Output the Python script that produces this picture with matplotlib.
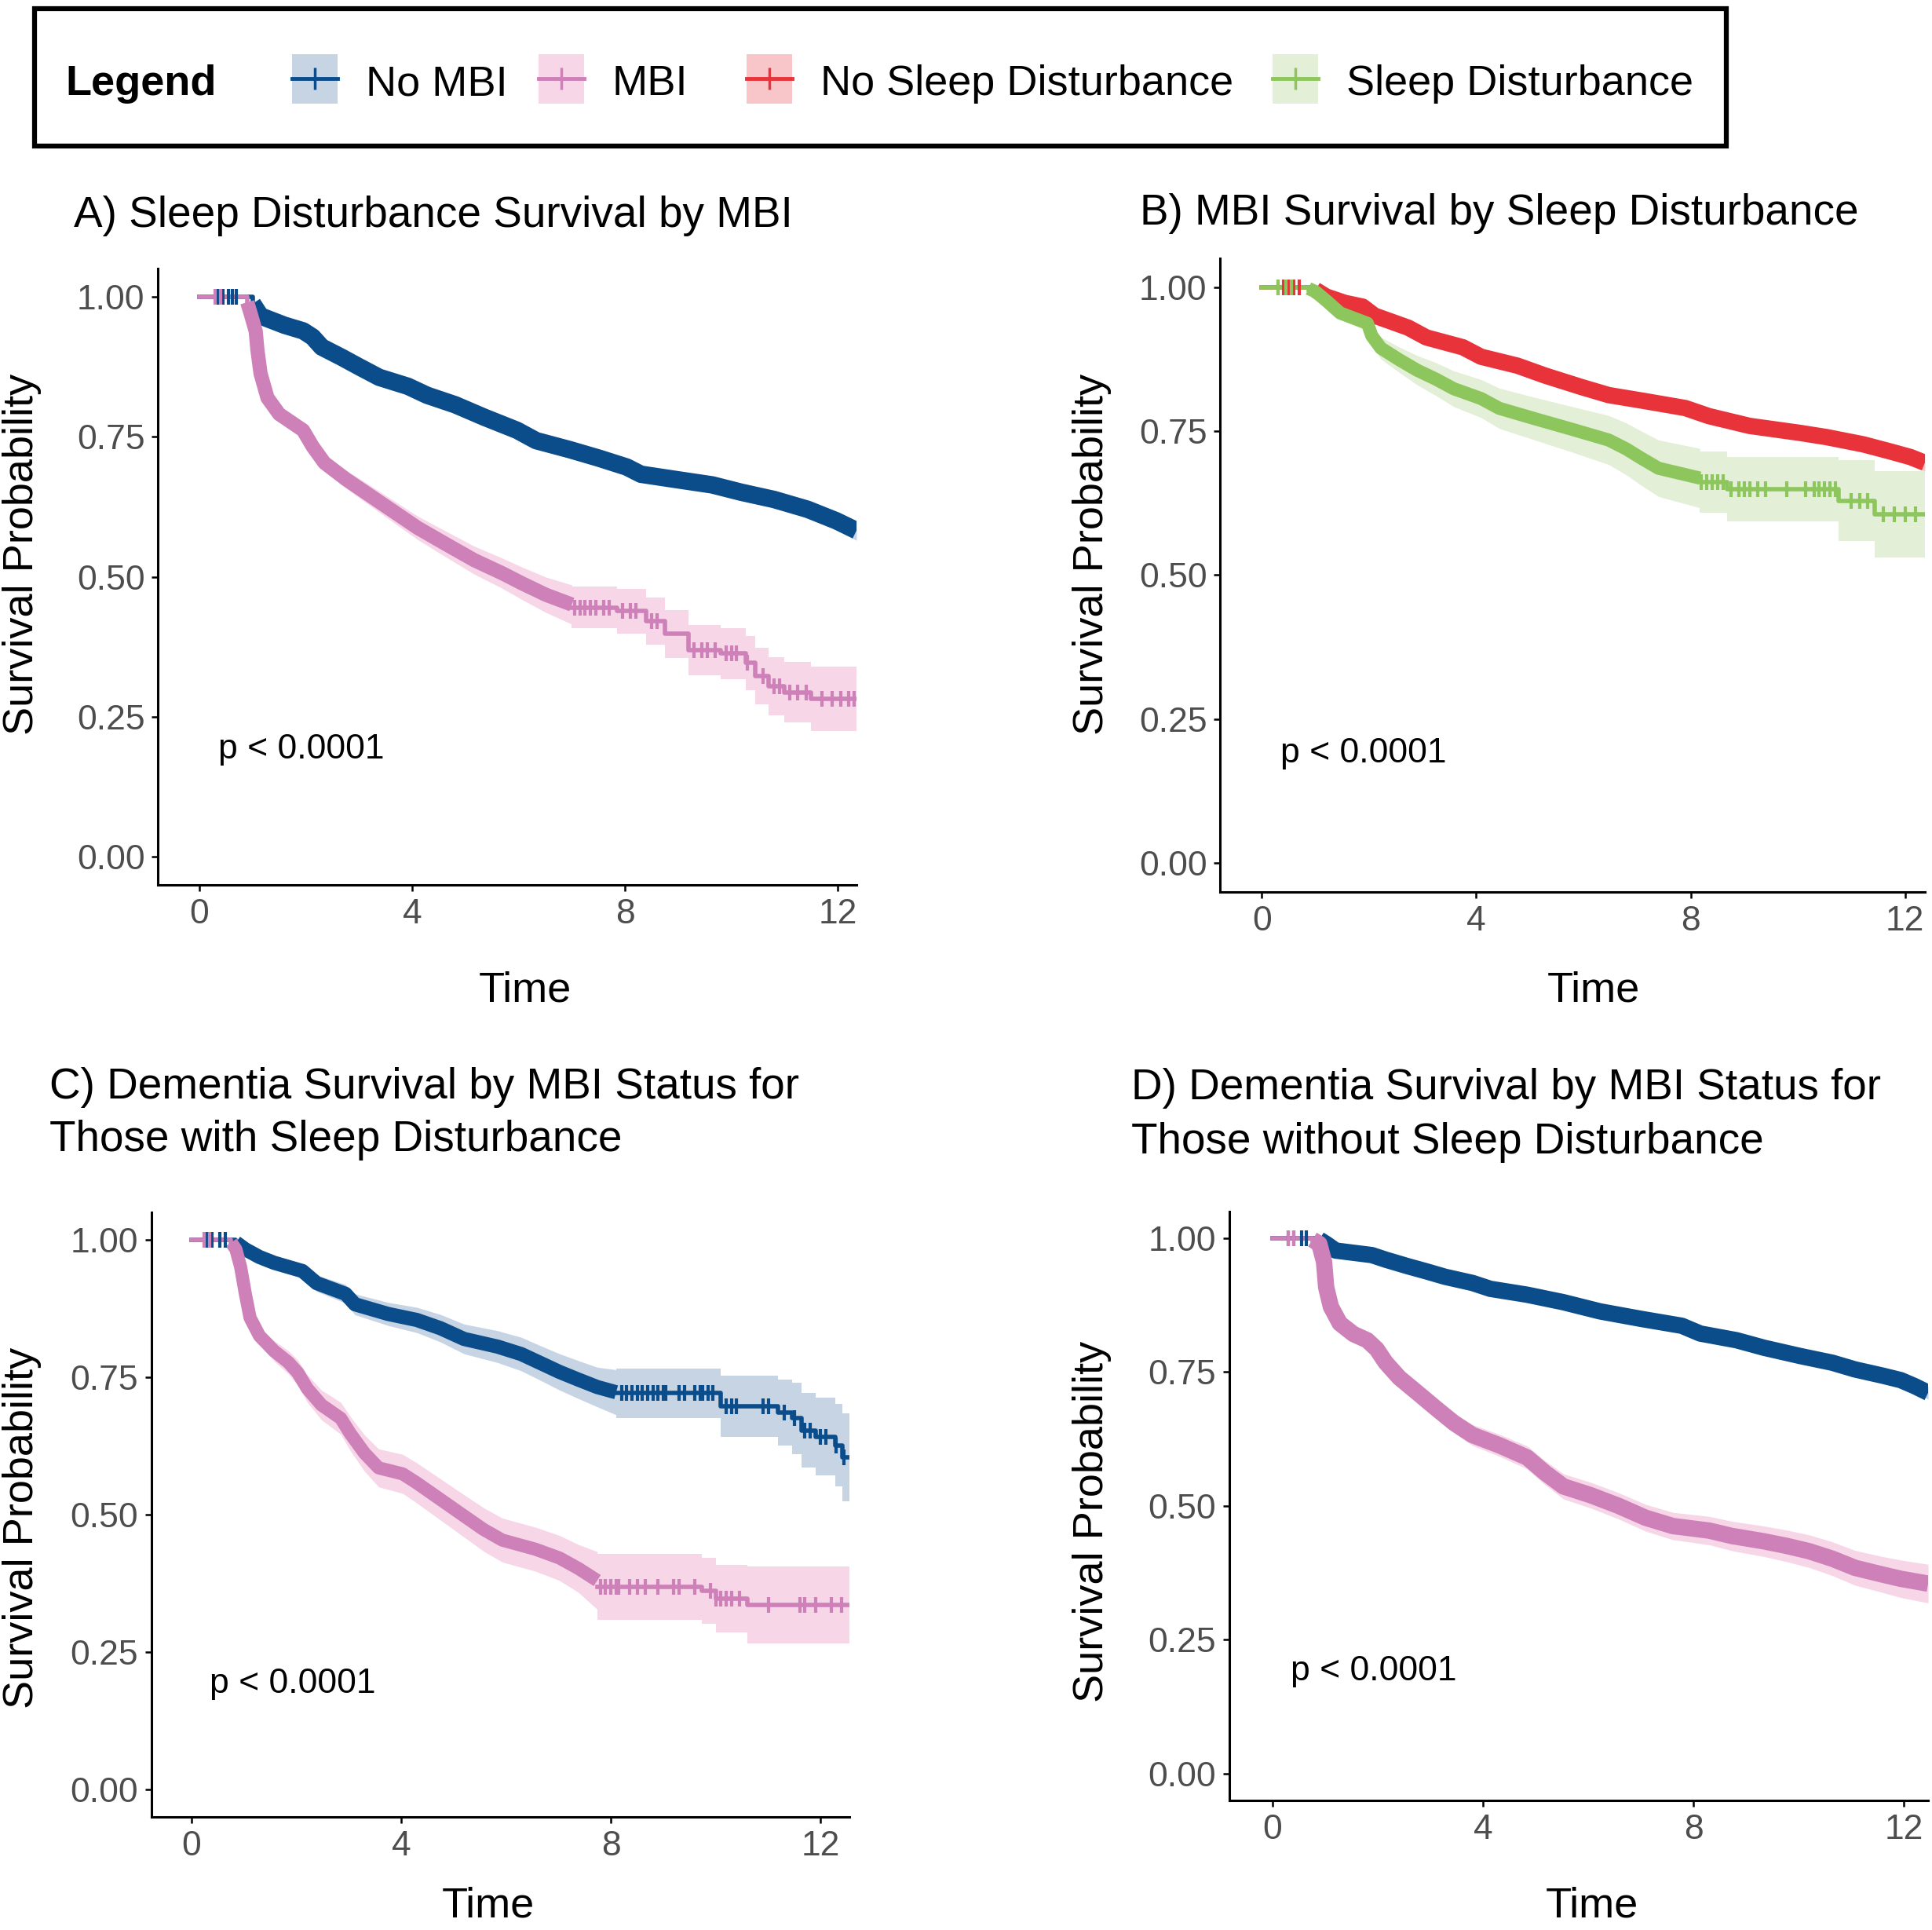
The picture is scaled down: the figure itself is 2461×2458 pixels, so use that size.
# Kaplan-Meier style panels: sleep disturbance / MBI / dementia survival
import numpy as np
import matplotlib
matplotlib.use('Agg')
import matplotlib.pyplot as plt
from matplotlib.patches import Rectangle

plt.rcParams['font.family'] = ['Liberation Sans', 'DejaVu Sans']

W, H = 2461, 2458

blue, blue_ci = '#0B4C8A', '#C6D4E4'
pink, pink_ci = '#CE80B8', '#F6D6E7'
red, red_ci = '#E8333B', '#F8C6C8'
green, green_ci = '#8EC65E', '#E3EFD6'

legend_labels = ['No MBI', 'MBI', 'No Sleep Disturbance', 'Sleep Disturbance']

# ---- A) Sleep Disturbance Survival by MBI ----
a_nombi_t = [0, 1.0, 1.15, 1.6, 1.95, 2.13, 2.3, 2.67, 3.0, 3.38, 3.92, 4.28, 4.81, 5.35, 5.97,
             6.33, 6.96, 7.5, 8.03, 8.3, 8.93, 9.64, 10.18, 10.8, 11.43, 11.97, 12.35]
a_nombi_s = [1.0, 0.975, 0.956, 0.942, 0.936, 0.92, 0.90, 0.884, 0.866, 0.846, 0.834, 0.814, 0.80,
             0.77, 0.753, 0.733, 0.721, 0.703, 0.689, 0.677, 0.671, 0.657, 0.645, 0.631, 0.61, 0.59, 0.575]
a_nombi_ci = [0, 0.005, 0.006, 0.007, 0.008, 0.008, 0.009, 0.009, 0.01, 0.01, 0.01, 0.011, 0.011,
              0.012, 0.012, 0.012, 0.013, 0.013, 0.013, 0.014, 0.014, 0.014, 0.015, 0.015, 0.016, 0.017, 0.018]
a_nombi_cens = [0.35, 0.45, 0.55, 0.62, 0.7]

a_mbi_t = [0, 0.9, 0.97, 1.06, 1.09, 1.15, 1.28, 1.5, 1.95, 2.13, 2.35, 2.75, 3.2, 3.65, 4.1, 4.63,
           5.17, 5.7, 6.06, 6.51, 7.0, 7.85, 8.39, 8.75, 9.2, 9.8, 10.27, 10.45, 10.7, 11.0, 11.5, 12.35]
a_mbi_s = [1.0, 0.98, 0.956, 0.92, 0.892, 0.834, 0.805, 0.776, 0.747, 0.718, 0.689, 0.66, 0.631, 0.602,
           0.573, 0.544, 0.515, 0.497, 0.48, 0.456, 0.445, 0.439, 0.421, 0.398, 0.369, 0.363, 0.346,
           0.323, 0.305, 0.294, 0.282, 0.282]
a_mbi_ci = [0, 0.004, 0.006, 0.008, 0.009, 0.01, 0.011, 0.012, 0.013, 0.014, 0.015, 0.017, 0.019, 0.02,
            0.022, 0.024, 0.026, 0.028, 0.03, 0.033, 0.037, 0.04, 0.042, 0.043, 0.045, 0.046, 0.048,
            0.05, 0.052, 0.054, 0.058, 0.058]
a_mbi_cens = [0.3, 0.4, 7.05, 7.15, 7.25, 7.35, 7.45, 7.6, 7.7, 7.95, 8.1, 8.2, 8.5, 8.6, 9.3, 9.45,
              9.55, 9.7, 9.9, 10.0, 10.1, 10.3, 10.6, 10.8, 10.9, 11.1, 11.25, 11.4, 11.7, 11.9,
              12.05, 12.2, 12.3]

# ---- B) MBI Survival by Sleep Disturbance ----
b_nosd_t = [0, 1.0, 1.2, 1.55, 1.88, 2.1, 2.73, 3.07, 3.75, 4.09, 4.77, 5.28, 5.96, 6.47, 7.15, 7.9,
            8.34, 9.1, 10.03, 10.54, 11.22, 11.73, 12.1, 12.37]
b_nosd_s = [1.0, 0.99, 0.977, 0.968, 0.964, 0.937, 0.922, 0.903, 0.888, 0.87, 0.857, 0.836, 0.817,
            0.808, 0.796, 0.784, 0.768, 0.75, 0.744, 0.735, 0.719, 0.71, 0.7, 0.69]
b_nosd_ci = [0, 0.003, 0.004, 0.005, 0.005, 0.006, 0.006, 0.007, 0.007, 0.008, 0.008, 0.009, 0.009,
             0.01, 0.01, 0.011, 0.011, 0.012, 0.012, 0.013, 0.013, 0.014, 0.015, 0.015]
b_nosd_cens = [0.3, 0.4, 0.5, 0.6, 0.7]

b_sd_t = [0, 0.87, 1.0, 1.2, 1.46, 1.97, 2.05, 2.22, 2.56, 2.9, 3.24, 3.58, 4.09, 4.43, 5.11, 5.79,
          6.47, 6.8, 7.06, 7.4, 8.17, 8.68, 10.76, 11.43, 12.37]
b_sd_s = [1.0, 0.995, 0.989, 0.964, 0.946, 0.928, 0.903, 0.885, 0.863, 0.848, 0.833, 0.814, 0.799,
          0.78, 0.762, 0.744, 0.725, 0.713, 0.695, 0.676, 0.661, 0.649, 0.629, 0.606, 0.606]
b_sd_ci = [0, 0.003, 0.005, 0.01, 0.012, 0.014, 0.018, 0.02, 0.024, 0.027, 0.03, 0.032, 0.034, 0.036,
           0.038, 0.041, 0.044, 0.046, 0.048, 0.05, 0.053, 0.056, 0.07, 0.075, 0.075]
b_sd_cens = [0.3, 0.45, 0.55, 8.2, 8.3, 8.4, 8.5, 8.6, 8.75, 8.9, 9.0, 9.1, 9.25, 9.4, 9.8, 10.15,
             10.3, 10.4, 10.5, 10.6, 10.7, 11.0, 11.15, 11.3, 11.6, 11.8, 12.0, 12.2]

# ---- C) Dementia by MBI, with sleep disturbance ----
c_nombi_t = [0, 0.85, 1.03, 1.3, 1.58, 2.12, 2.39, 2.94, 3.12, 3.75, 4.3, 4.75, 5.2, 5.84, 6.29,
             6.65, 7.02, 7.38, 7.74, 8.1, 10.1, 11.19, 11.46, 11.64, 11.9, 12.28, 12.41, 12.55]
c_nombi_s = [1.0, 0.99, 0.975, 0.962, 0.954, 0.932, 0.91, 0.893, 0.872, 0.858, 0.85, 0.828, 0.811,
             0.8, 0.784, 0.768, 0.751, 0.74, 0.724, 0.721, 0.697, 0.686, 0.675, 0.653, 0.642, 0.626,
             0.604, 0.604]
c_nombi_ci = [0, 0.004, 0.007, 0.009, 0.011, 0.014, 0.016, 0.018, 0.02, 0.022, 0.024, 0.026, 0.028,
              0.03, 0.031, 0.032, 0.034, 0.035, 0.037, 0.045, 0.055, 0.06, 0.065, 0.068, 0.07,
              0.075, 0.08, 0.08]
c_nombi_cens = [0.3, 0.4, 0.55, 0.65, 8.2, 8.3, 8.4, 8.5, 8.6, 8.7, 8.8, 8.9, 9.0, 9.05, 9.3,
                9.4, 9.6, 9.7, 9.75, 9.85, 9.95, 10.2, 10.3, 10.4, 10.9, 11.0, 11.3, 11.5, 11.7,
                11.8, 12.0, 12.1, 12.3, 12.45]

c_mbi_t = [0, 0.76, 0.85, 0.94, 1.03, 1.12, 1.3, 1.58, 1.85, 2.03, 2.21, 2.48, 2.85, 3.03, 3.3, 3.57,
           4.03, 4.3, 4.75, 5.2, 5.57, 5.93, 6.56, 7.02, 7.38, 7.74, 9.74, 10.0, 10.6, 12.55]
c_mbi_s = [1.0, 0.99, 0.975, 0.926, 0.877, 0.839, 0.811, 0.784, 0.77, 0.746, 0.713, 0.686, 0.664,
           0.631, 0.593, 0.577, 0.571, 0.544, 0.511, 0.484, 0.462, 0.445, 0.429, 0.413, 0.391, 0.369,
           0.361, 0.347, 0.336, 0.336]
c_mbi_ci = [0, 0.004, 0.006, 0.01, 0.013, 0.015, 0.017, 0.02, 0.022, 0.024, 0.026, 0.028, 0.03, 0.032,
            0.034, 0.035, 0.036, 0.037, 0.038, 0.039, 0.04, 0.04, 0.04, 0.042, 0.045, 0.06, 0.06,
            0.062, 0.07, 0.07]
c_mbi_cens = [0.25, 0.35, 7.8, 7.9, 8.0, 8.1, 8.15, 8.35, 8.5, 8.65, 8.9, 9.2, 9.3, 9.6, 9.9, 10.0,
              10.1, 10.2, 10.3, 10.45, 11.0, 11.6, 11.7, 11.9, 12.2, 12.4]

# ---- D) Dementia by MBI, without sleep disturbance ----
d_nombi_t = [0, 0.89, 1.02, 1.2, 1.89, 2.15, 2.58, 2.93, 3.28, 3.8, 4.14, 4.84, 5.53, 6.22, 7.0, 7.78,
             8.13, 8.82, 9.34, 10.03, 10.64, 11.07, 11.59, 11.94, 12.2, 12.46]
d_nombi_s = [1.0, 0.995, 0.984, 0.97, 0.967, 0.953, 0.942, 0.934, 0.922, 0.911, 0.9, 0.889, 0.872,
             0.855, 0.844, 0.829, 0.815, 0.804, 0.787, 0.773, 0.762, 0.748, 0.739, 0.731, 0.717, 0.706]
d_nombi_ci = [0, 0.003, 0.004, 0.004, 0.005, 0.005, 0.006, 0.006, 0.006, 0.007, 0.007, 0.007, 0.008,
              0.008, 0.008, 0.009, 0.009, 0.009, 0.01, 0.01, 0.01, 0.011, 0.011, 0.012, 0.012, 0.012]
d_nombi_cens = [0.3, 0.4, 0.55, 0.65]

d_mbi_t = [0, 0.76, 0.89, 0.98, 1.02, 1.11, 1.28, 1.54, 1.8, 1.98, 2.15, 2.41, 2.76, 3.1, 3.45, 3.8,
           4.32, 4.84, 5.18, 5.53, 6.05, 6.57, 7.09, 7.61, 8.3, 8.73, 9.34, 9.77, 10.2, 10.64, 11.07,
           11.59, 11.94, 12.46]
d_mbi_s = [1.0, 0.995, 0.984, 0.928, 0.889, 0.855, 0.827, 0.815, 0.804, 0.782, 0.754, 0.725, 0.697,
           0.669, 0.641, 0.624, 0.602, 0.579, 0.545, 0.528, 0.512, 0.489, 0.467, 0.458, 0.45, 0.438,
           0.43, 0.421, 0.41, 0.393, 0.376, 0.368, 0.36, 0.35]
d_mbi_ci = [0, 0.003, 0.005, 0.008, 0.01, 0.011, 0.012, 0.013, 0.013, 0.014, 0.015, 0.016, 0.017,
            0.018, 0.019, 0.02, 0.021, 0.022, 0.023, 0.024, 0.024, 0.025, 0.025, 0.026, 0.027, 0.028,
            0.029, 0.03, 0.031, 0.032, 0.033, 0.034, 0.036, 0.036]
d_mbi_cens = [0.3, 0.4]


def split(t, dense):
    # first and last knot of the stretch where censor marks pile up into a band
    idx = np.where((t >= dense[0]) & (t <= dense[1]))[0]
    return idx[0], idx[-1]


def band(ax, t, s, ci, fill, dense):
    t, s, ci = np.array(t), np.array(s), np.array(ci)
    i0, k = split(t, dense)
    sm = (s[i0 - 1:k] + s[i0:k + 1]) / 2
    cm = (ci[i0 - 1:k] + ci[i0:k + 1]) / 2
    ax.fill_between(t[i0:k + 1], sm - cm, sm + cm, color=fill, lw=0, zorder=1)
    ax.fill_between(t[k:], s[k:] - ci[k:], s[k:] + ci[k:], step='post', color=fill, lw=0, zorder=1)


def km(ax, t, s, color, dense, censor, lw=15):
    t, s = np.array(t), np.array(s)
    i0, k = split(t, dense)
    ax.step(t[:i0 + 1], s[:i0 + 1], where='post', color=color, lw=4, zorder=3)
    ax.step(t[k:], s[k:], where='post', color=color, lw=4, zorder=3)
    sm = (s[i0 - 1:k] + s[i0:k + 1]) / 2
    ax.plot(t[i0:k + 1], sm, color=color, lw=lw, solid_capstyle='butt',
            solid_joinstyle='round', zorder=3)
    c = np.array(censor)
    cy = s[np.searchsorted(t, c, side='right') - 1]
    ax.plot(c, cy, ls='none', marker='|', ms=15, mew=3, color=color, zorder=4)


def style(ax, xlim):
    ax.set_xlim(*xlim)
    ax.set_ylim(-0.05, 1.05)
    ax.set_xticks([0, 4, 8, 12])
    ax.set_yticks([0, 0.25, 0.5, 0.75, 1.0])
    ax.set_yticklabels(['0.00', '0.25', '0.50', '0.75', '1.00'])
    for sp in ['top', 'right']:
        ax.spines[sp].set_visible(False)
    for sp in ['left', 'bottom']:
        ax.spines[sp].set_linewidth(2.2)
    ax.tick_params(direction='out', length=6, width=1.8, labelsize=32,
                   labelcolor='#4D4D4D', pad=6)
    ax.text(0.35, 0.175, 'p < 0.0001', fontsize=32, ha='left', va='baseline')


fig = plt.figure(figsize=(W / 100, H / 100), dpi=100)

# overlay in pixel coordinates for legend and labels
lg = fig.add_axes([0, 0, 1, 1])
lg.set_xlim(0, W)
lg.set_ylim(H, 0)
lg.axis('off')
lg.set_zorder(10)

lg.add_patch(Rectangle((44, 11), 2155, 175, fill=False, lw=4.5, ec='black'))
lg.text(83, 121, 'Legend', fontsize=39, fontweight='bold', va='baseline')
key_x = [372, 686, 951, 1621]
key_c = [blue, pink, red, green]
key_f = [blue_ci, pink_ci, red_ci, green_ci]
for x0, lab, c, f in zip(key_x, legend_labels, key_c, key_f):
    lg.add_patch(Rectangle((x0, 69), 58, 63, color=f, lw=0))
    lg.plot([x0, x0 + 58], [100, 100], color=c, lw=3.5)
    lg.plot([x0 + 29], [100], marker='|', ms=20, mew=2.5, color=c)
    lg.text(x0 + 94, 121, lab, fontsize=39, va='baseline')

lg.text(94, 289, 'A) Sleep Disturbance Survival by MBI', fontsize=39.5, va='baseline')
lg.text(1452, 286, 'B) MBI Survival by Sleep Disturbance', fontsize=39.5, va='baseline')
lg.text(63, 1399, 'C) Dementia Survival by MBI Status for', fontsize=39.5, va='baseline')
lg.text(63, 1466, 'Those with Sleep Disturbance', fontsize=39.5, va='baseline')
lg.text(1441, 1400, 'D) Dementia Survival by MBI Status for', fontsize=39.5, va='baseline')
lg.text(1441, 1469, 'Those without Sleep Disturbance', fontsize=39.5, va='baseline')

for x, y in [(28, 706), (1391, 706), (28, 1946), (1391, 1938)]:
    lg.text(x, y, 'Survival Probability', fontsize=39, rotation=90, ha='center', va='center')
for x, y in [(669, 1275), (2030, 1275), (622, 2442), (2028, 2442)]:
    lg.text(x, y, 'Time', fontsize=39, ha='center', va='baseline')

# panel A
axA = fig.add_axes([0.0817, 0.5415, 0.3616, 0.3193])
band(axA, a_nombi_t, a_nombi_s, a_nombi_ci, blue_ci, (1.0, 12.4))
band(axA, a_mbi_t, a_mbi_s, a_mbi_ci, pink_ci, (0.9, 7.0))
km(axA, a_nombi_t, a_nombi_s, blue, (1.0, 12.4), a_nombi_cens, lw=16)
km(axA, a_mbi_t, a_mbi_s, pink, (0.9, 7.0), a_mbi_cens, lw=13)
style(axA, (-0.78, 12.35))

# panel B
axB = fig.add_axes([0.6315, 0.5378, 0.3648, 0.3284])
band(axB, b_nosd_t, b_nosd_s, b_nosd_ci, red_ci, (1.0, 12.4))
band(axB, b_sd_t, b_sd_s, b_sd_ci, green_ci, (0.87, 8.17))
km(axB, b_nosd_t, b_nosd_s, red, (1.0, 12.4), b_nosd_cens, lw=15)
km(axB, b_sd_t, b_sd_s, green, (0.87, 8.17), b_sd_cens, lw=12)
style(axB, (-0.78, 12.37))

# panel C
axC = fig.add_axes([0.0784, 0.0586, 0.3613, 0.3133])
band(axC, c_nombi_t, c_nombi_s, c_nombi_ci, blue_ci, (0.85, 8.1))
band(axC, c_mbi_t, c_mbi_s, c_mbi_ci, pink_ci, (0.76, 7.74))
km(axC, c_nombi_t, c_nombi_s, blue, (0.85, 8.1), c_nombi_cens, lw=13)
km(axC, c_mbi_t, c_mbi_s, pink, (0.76, 7.74), c_mbi_cens, lw=12)
style(axC, (-0.76, 12.55))

# panel D
axD = fig.add_axes([0.6363, 0.0671, 0.3617, 0.3052])
band(axD, d_nombi_t, d_nombi_s, d_nombi_ci, blue_ci, (0.89, 12.5))
band(axD, d_mbi_t, d_mbi_s, d_mbi_ci, pink_ci, (0.76, 12.5))
km(axD, d_nombi_t, d_nombi_s, blue, (0.89, 12.5), d_nombi_cens, lw=15)
km(axD, d_mbi_t, d_mbi_s, pink, (0.76, 12.5), d_mbi_cens, lw=15)
style(axD, (-0.82, 12.46))

fig.savefig('out.png', dpi=100)
